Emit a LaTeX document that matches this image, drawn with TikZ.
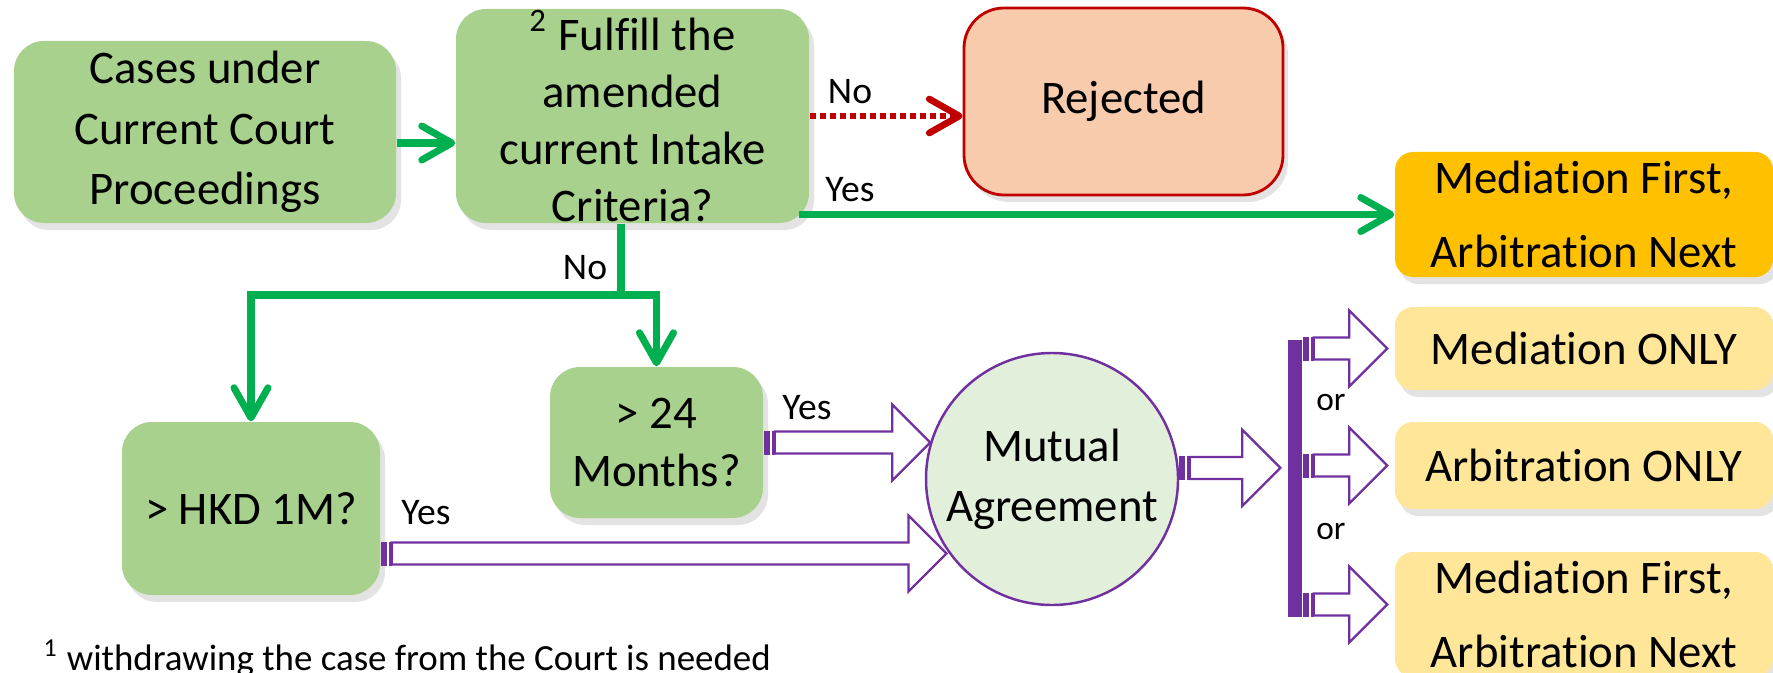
\documentclass[tikz,border=0pt]{standalone}
\usepackage{fontspec}
\setmainfont{Carlito}[Ligatures=NoCommon, RawFeature=-calt]
\usepackage{tikz}
\usetikzlibrary{arrows.meta}
\usetikzlibrary{calc}
\usetikzlibrary{shadows}
\definecolor{lgreen}{HTML}{A9D18E}
\definecolor{dgreen}{HTML}{00B050}
\definecolor{dred}{HTML}{C00000}
\definecolor{salmon}{HTML}{F8CBAD}
\definecolor{gold}{HTML}{FFC000}
\definecolor{lgold}{HTML}{FFE699}
\definecolor{purp}{HTML}{7030A0}
\definecolor{pale}{HTML}{E2EFDA}

\newcommand{\stripedarr}[2]{%
\fill[purp] let \p1=(#1) in (\x1,\y1-1.2mm) rectangle (\x1+0.6mm,\y1+1.2mm);
\fill[purp] let \p1=(#1) in (\x1+0.85mm,\y1-1.2mm) rectangle (\x1+1.1mm,\y1+1.2mm);
\draw[purp, fill=white, line width=0.65pt] let \p1=(#1), \p2=(#2) in
(\x1+1.1mm,\y1+1.1mm) -- (\x2-3.8mm,\y1+1.1mm) -- (\x2-3.8mm,\y1+3.8mm) -- (\x2,\y1)
-- (\x2-3.8mm,\y1-3.8mm) -- (\x2-3.8mm,\y1-1.1mm) -- (\x1+1.1mm,\y1-1.1mm) -- cycle;}

\begin{document}
\begin{tikzpicture}[
greenrect/.style={rectangle, align=center, fill=lgreen, rounded corners=0.3cm, inner sep=0pt,
drop shadow={shadow xshift=0.5mm, shadow yshift=-0.7mm, opacity=0.22}},
rejrect/.style={rectangle, align=center, draw=dred, line width=0.8pt, fill=salmon, rounded corners=0.4cm,
drop shadow={shadow xshift=0.5mm, shadow yshift=-0.7mm, opacity=0.22}},
optrect/.style={rectangle, align=center, fill=lgold, rounded corners=0.18cm, inner sep=0pt,
minimum width=3.78cm, font=\fontsize{13.3}{21}\selectfont,
drop shadow={shadow xshift=0.5mm, shadow yshift=-0.7mm, opacity=0.22}},
greenarr/.style={-{Straight Barb[length=3mm, width=3.4mm, round]}, line width=2pt, draw=dgreen},
greenline/.style={line width=2pt, draw=dgreen},
noarr/.style={-{Straight Barb[length=3mm, width=3.4mm, round]}, line width=1.9pt, draw=dred,
dash pattern=on 0.6mm off 0.4mm},
lbl/.style={inner sep=0pt, font=\fontsize{10.7}{12}\selectfont},
orlbl/.style={inner sep=0pt, font=\fontsize{9.5}{11}\selectfont},
font=\fontsize{13.3}{17}\selectfont]

\useasboundingbox (0,0) rectangle (17.73,-6.73);
\clip (0,0) rectangle (17.73,-6.73);

\node[greenrect, minimum width=3.82cm, minimum height=1.82cm, font=\fontsize{13.3}{17.2}\selectfont] (CC) at (2.05,-1.32) {Cases under\\Current Court\\Proceedings};
\node[greenrect, minimum width=3.53cm, minimum height=2.14cm, font=\fontsize{13.3}{16.2}\selectfont] (FI) at (6.325,-1.16) {\textsuperscript{2} Fulfill the\\amended\\current Intake\\Criteria?};
\node[rejrect, minimum width=3.19cm, minimum height=1.87cm] (RJ) at (11.235,-1.015) {Rejected};

\node[optrect, fill=gold, minimum height=1.25cm] (MF1) at (15.84,-2.145) {Mediation First,\\Arbitration Next};
\node[optrect, minimum height=0.83cm] (MO) at (15.84,-3.485) {Mediation ONLY};
\node[optrect, minimum height=0.87cm] (AO) at (15.84,-4.655) {Arbitration ONLY};
\node[optrect, minimum height=1.25cm] (MF2) at (15.84,-6.145) {Mediation First,\\Arbitration Next};

\node[greenrect, minimum width=2.58cm, minimum height=1.73cm] (HK) at (2.51,-5.085) {> HKD 1M?};
\node[greenrect, minimum width=2.13cm, minimum height=1.51cm, font=\fontsize{13.3}{16.5}\selectfont] (MN) at (6.565,-4.425) {> 24\\Months?};
\node[circle, align=center, draw=purp, line width=0.7pt, fill=pale, minimum size=2.52cm, inner sep=0pt] (MA) at (10.52,-4.79) {Mutual\\Agreement};
\node[rectangle, fill=purp, minimum width=0.14cm, minimum height=2.77cm, inner sep=0pt] (BR) at (12.95,-4.785) {};

\node[lbl] (LN1) at (8.50,-0.92) {No};
\node[lbl] (LY1) at (8.50,-1.90) {Yes};
\node[lbl] (LN2) at (5.85,-2.68) {No};
\node[lbl] (LY2) at (8.07,-4.08) {Yes};
\node[lbl] (LY3) at (4.26,-5.13) {Yes};
\node[orlbl] (OR1) at (13.31,-4.03) {or};
\node[orlbl] (OR2) at (13.31,-5.31) {or};
\node[anchor=base west, inner sep=0pt, font=\fontsize{10.5}{12}\selectfont] (FN) at (0.43,-6.70) {\textsuperscript{1} withdrawing the case from the Court is needed};

\coordinate (c1) at (0,-1.43);
\coordinate (c2) at ($(FI.east |- MF1.west)+(-0.11,0)$);
\coordinate (sp) at (6.21,-2.95);
\draw[greenarr] (CC.east |- c1) -- (FI.west |- c1);
\draw[noarr] (FI.east) -- (RJ.west |- FI.east);
\draw[greenarr] (c2) -- (MF1.west);
\draw[greenline] (sp |- FI.south) -- (sp);
\draw[greenarr] (sp) -| (HK.north);
\draw[greenarr] (sp) -| (MN.north);

\stripedarr{MN.east}{MA.163}
\stripedarr{$(HK.east)+(0,-0.45)$}{MA.214}
\stripedarr{MA.5}{$(BR.west)+(-0.07,0)$}
\stripedarr{BR.east |- MO.west}{$(MO.west)+(-0.07,0)$}
\stripedarr{BR.east |- AO.west}{$(AO.west)+(-0.07,0)$}
\stripedarr{$(BR.east |- MF2.west)+(0,0.1)$}{$(MF2.west)+(-0.07,0)$}

\end{tikzpicture}
\end{document}
